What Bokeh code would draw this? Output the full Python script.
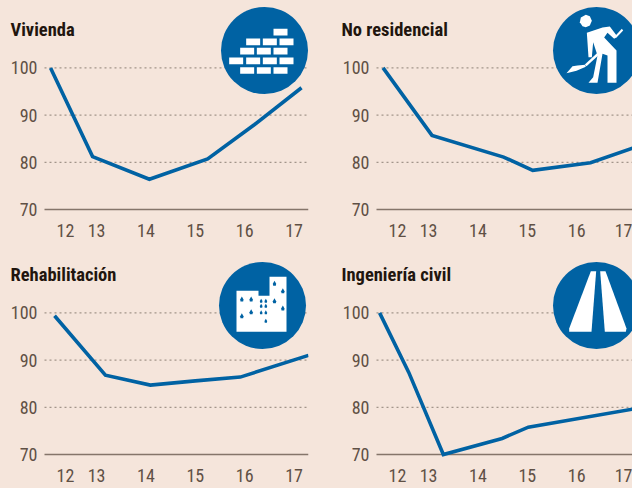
from bokeh.plotting import figure
from bokeh.layouts import column, row
from bokeh.models import FixedTicker, Label
from bokeh.embed import file_html
from bokeh.resources import INLINE

BG = "#f5e5db"
BLUE = "#0062a3"
INK = "#5f5045"
DARK = "#21150e"
FONT = "'Roboto Condensed', 'DejaVu Sans Condensed', Roboto"

year_ticks = [12.37, 13, 14, 15, 16, 17]
year_labels = ["12", "13", "14", "15", "16", "17"]
y_ticks = [70, 80, 90, 100]
grid_levels = [80, 90, 100]

viv_x = [12.07, 12.92, 14.07, 15.25, 16.2, 17.15]
viv_y = [100, 81.2, 76.4, 80.7, 88.0, 95.8]
nores_x = [12.08, 13.07, 14.52, 15.11, 16.28, 17.13]
nores_y = [100, 85.7, 81.1, 78.3, 79.9, 83]
rehab_x = [12.15, 13.18, 14.09, 15.0, 15.91, 17.29]
rehab_y = [99.4, 86.8, 84.7, 85.6, 86.4, 91]
civil_x = [12.01, 12.6, 13.3, 14.49, 15.02, 17.13]
civil_y = [100, 87.4, 70, 73.4, 75.8, 79.6]

PX_X = 49.4   # pixels per year
PX_Y = 4.72   # pixels per index point
XA = 11.947   # where the axis stands


def make(title, xs, ys, width, height, left, right, title_px, circle_px, icon):
    below = 12           # frame room under the 70 line, so that its label is not cut
    fh = 209 + below
    y0 = 70 - below / PX_Y
    x_start = XA - left / PX_X
    x_end = XA + (width - left - right) / PX_X
    p = figure(width=width, height=height, output_backend="svg", toolbar_location=None,
               x_range=(x_start, x_end), y_range=(y0, y0 + fh / PX_Y),
               min_border_left=0, min_border_right=right, min_border_top=0,
               min_border_bottom=height - fh,
               background_fill_color=BG, border_fill_color=BG, outline_line_color=None)

    def dx(px):  # pixels from the axis to data
        return XA + px / PX_X

    def dy(px):  # pixels from frame top to data
        return y0 + (fh - px) / PX_Y

    p.xgrid.visible = False
    p.ygrid.visible = False
    n = len(grid_levels)
    p.segment([XA] * n, grid_levels, [x_end] * n, grid_levels, line_color="#a2958a",
              line_dash="2 3", line_width=1.2)
    p.segment([XA], [70], [x_end], [70], line_color="#85756a", line_width=1.6)

    for ax in (p.xaxis[0], p.yaxis[0]):
        ax.axis_line_color = None
        ax.major_tick_line_color = None
        ax.minor_tick_line_color = None
        ax.major_label_text_font = FONT
        ax.major_label_text_font_size = "18px"
        ax.major_label_text_color = INK
    p.xaxis[0].ticker = FixedTicker(ticks=year_ticks)
    p.xaxis[0].major_label_overrides = dict(zip(year_ticks, year_labels))
    p.xaxis[0].major_label_standoff = -4
    p.yaxis[0].ticker = FixedTicker(ticks=y_ticks)
    p.yaxis[0].major_label_standoff = 1
    p.yaxis[0].fixed_location = XA

    cx, cy = circle_px
    p.scatter([dx(cx)], [dy(cy)], size=87, color=BLUE, line_color=None)
    # icon shapes are given in 3x pixels relative to the circle's centre
    for shape, colour in icon:
        p.patch([dx(cx + a / 3) for a, _ in shape], [dy(cy + b / 3) for _, b in shape],
                color=colour, line_color=None)

    p.line(xs, ys, line_color=BLUE, line_width=3.6, line_join="miter")
    p.add_layout(Label(x=dx(title_px[0]), y=dy(title_px[1]),
                       text=title, text_font=FONT, text_font_style="bold",
                       text_font_size="18.5px", text_color=DARK, text_baseline="middle"))
    return p


def box(x0, y0, x1, y1):
    return [(x0, y0), (x1, y0), (x1, y1), (x0, y1)]


def shift(points, ox, oy):
    return [(a - ox, b - oy) for a, b in points]


def drop(x, y, s=1.0):
    return [(x, y - 8 * s), (x + 5 * s, y + 1 * s), (x + 4 * s, y + 7 * s),
            (x - 4 * s, y + 7 * s), (x - 5 * s, y + 1 * s)]


bricks = []
for yb, xs_b in [(95, [820]), (124, [738, 788, 838]), (152, [720, 770, 820]),
                 (181, [687, 738, 788, 838]), (210, [720, 770, 820])]:
    for xb in xs_b:
        bricks.append((shift(box(xb, yb - 10, xb + 42, yb + 10), 793, 150), "white"))

head = [(100, 28), (112, 32), (118, 46), (112, 60), (100, 65), (90, 62), (82, 50), (85, 36)]
body = [(103, 82), (150, 66), (172, 63), (194, 92), (185, 100), (165, 82), (155, 96), (192, 135),
        (192, 232), (165, 232), (165, 150), (150, 145), (135, 232), (108, 232), (122, 215),
        (135, 150), (122, 110), (118, 155), (108, 155)]
handle = [(208, 70), (212, 75), (190, 98), (186, 94)]
shaft = [(143, 134), (148, 140), (102, 182), (97, 177)]
blade = [(42, 203), (60, 182), (75, 180), (98, 178), (100, 184), (72, 196)]
worker = [(shift(s, 132, 135), "white") for s in (head, body, handle, shaft, blade)]

outline = [(54, 85), (120, 85), (120, 100), (153, 100), (153, 43), (204, 43), (204, 208), (54, 208)]
building = [(shift(outline, 132, 129), "white")]
for wx, wy in [(70, 110), (98, 110), (70, 160), (98, 148), (168, 63), (193, 85), (168, 115), (193, 137)]:
    building.append((shift(drop(wx, wy), 132, 129), BLUE))
for wx, wy in [(128, 115), (128, 130), (128, 150), (142, 115), (142, 130), (142, 150), (142, 175)]:
    building.append((shift(drop(wx, wy, 0.8), 132, 129), BLUE))

road_l = [(810, 78), (826, 78), (812, 260), (745, 260), (745, 250)]
road_r = [(838, 78), (854, 78), (917, 250), (915, 260), (852, 260)]
road = [(shift(s, 827, 181), "white") for s in (road_l, road_r)]

a = make("Vivienda", viv_x, viv_y, 320, 245, 44, 12, (-34, 29), (220, 50), bricks)
b = make("No residencial", nores_x, nores_y, 312, 245, 56, 0, (-35, 29), (220, 50), worker)
c = make("Rehabilitación", rehab_x, rehab_y, 320, 243, 44, 12, (-34, 29), (218, 60), building)
d = make("Ingeniería civil", civil_x, civil_y, 312, 243, 56, 0, (-35, 29), (220, 60), road)

page = column(row(a, b, spacing=0), row(c, d, spacing=0), spacing=0)
html = file_html(page, INLINE)
html = html.replace("<head>", "<head><style>html,body{background:%s}</style>" % BG, 1)
open("out.html", "w").write(html)
